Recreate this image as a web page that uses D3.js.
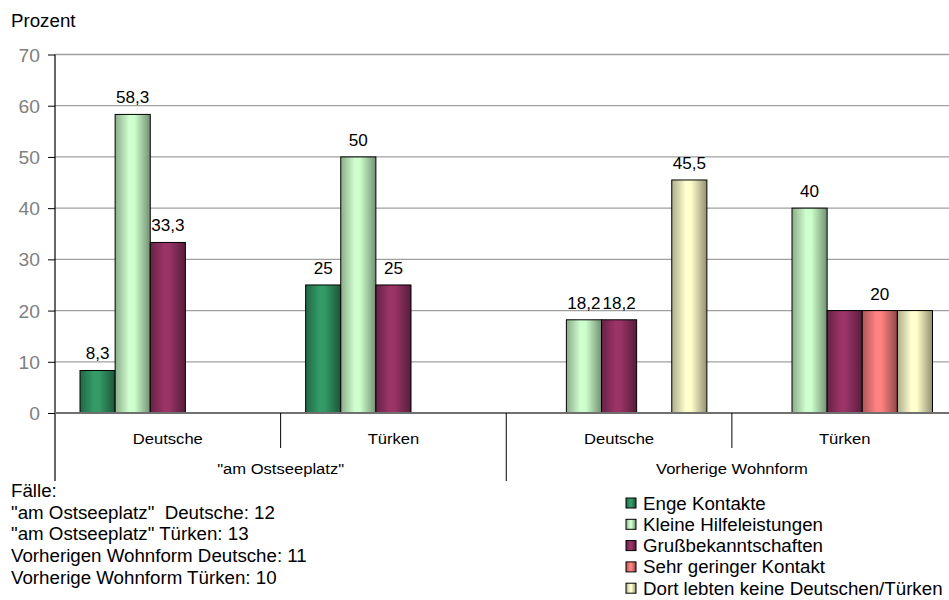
<!DOCTYPE html>
<html>
<head>
<meta charset="utf-8">
<script src="https://cdn.jsdelivr.net/npm/d3@7"></script>
<style>
  html, body { margin: 0; padding: 0; background: #fff; }
  svg { display: block; font-family: "Liberation Sans", Arial, sans-serif; }
</style>
</head>
<body>
<svg id="chart" width="949" height="600"></svg>
<script>
// Kontakte nach Herkunft und Wohnort (Prozent)
const groups = ['"am Ostseeplatz"', "Vorherige Wohnform"];
const subgroups = ["Deutsche", "Türken", "Deutsche", "Türken"];
const series = [
  "Enge Kontakte",
  "Kleine Hilfeleistungen",
  "Grußbekanntschaften",
  "Sehr geringer Kontakt",
  "Dort lebten keine Deutschen/Türken"
];
// one row per subgroup, one value per series (null = kein Balken)
const values = [
  [8.3, 58.3, 33.3, null, null],
  [25, 50, 25, null, null],
  [null, 18.2, 18.2, null, 45.5],
  [null, 40, 20, 20, 20]
];
// which bars carry a value label
const showLabel = [
  [true, true, true, false, false],
  [true, true, true, false, false],
  [false, true, true, false, true],
  [false, true, false, true, false]
];
const yTicks = [0, 10, 20, 30, 40, 50, 60, 70];
const caseNotes = [
  "Fälle:",
  "\"am Ostseeplatz\"  Deutsche: 12",
  "\"am Ostseeplatz\" Türken: 13",
  "Vorherigen Wohnform Deutsche: 11",
  "Vorherige Wohnform Türken: 10"
];
const colors = ["#339966", "#ccffcc", "#993366", "#ff8080", "#ffffcc"];

const svg = d3.select("#chart");
const plot = { left: 55, right: 957.5, top: 54.5, bottom: 413 };
const SX = 1.07; // slightly widened lettering

// place a text element at (x, y) with the horizontal stretch applied
function place(sel, fx, fy) {
  return sel.attr("transform", (d, i) => `translate(${fx(d, i)},${fy(d, i)}) scale(${SX},1)`);
}

const y = d3.scaleLinear().domain([0, 70]).range([plot.bottom, plot.top]);
const x0 = d3.scaleBand().domain(d3.range(subgroups.length))
  .range([plot.left, plot.right]).paddingInner(0).paddingOuter(0);
const x1 = d3.scaleBand().domain(d3.range(series.length))
  .range([25, x0.bandwidth() - 25]);

// cylinder-like horizontal shading for each series
const defs = svg.append("defs");
colors.forEach((c, i) => {
  const base = d3.color(c);
  const g = defs.append("linearGradient").attr("id", "grad" + i)
    .attr("x1", "0%").attr("x2", "100%").attr("y1", "0%").attr("y2", "0%");
  g.append("stop").attr("offset", "0%").attr("stop-color", base.darker(1.1));
  g.append("stop").attr("offset", "40%").attr("stop-color", base.brighter(0.05));
  g.append("stop").attr("offset", "55%").attr("stop-color", base);
  g.append("stop").attr("offset", "100%").attr("stop-color", base.darker(1.6));
});

// gridlines
svg.append("g").selectAll("line").data(yTicks.filter(d => d > 0)).join("line")
  .attr("x1", plot.left).attr("x2", 949)
  .attr("y1", d => y(d)).attr("y2", d => y(d))
  .attr("stroke", "#a0a0a0").attr("stroke-width", 1.3);

// y axis
const yAxis = svg.append("g").attr("transform", `translate(${plot.left},0)`)
  .call(d3.axisLeft(y).tickValues(yTicks).tickSize(7).tickPadding(8));
yAxis.select(".domain").remove();
yAxis.selectAll(".tick line").attr("stroke", "#000");
yAxis.selectAll(".tick text").attr("fill", "#808080")
  .attr("font-size", 18).attr("font-family", "Liberation Sans, Arial, sans-serif")
  .attr("x", null).attr("dy", null)
  .attr("transform", `translate(-15,6.5) scale(${SX},1)`);
svg.append("line").attr("x1", plot.left).attr("x2", plot.left)
  .attr("y1", plot.top).attr("y2", 481).attr("stroke", "#000").attr("stroke-width", 1.2);

place(svg.append("text").datum(0), () => 11, () => 27)
  .attr("font-size", 17.5).text("Prozent");

// bars
const cells = [];
values.forEach((row, gi) => row.forEach((v, si) => {
  if (v !== null) cells.push({ gi, si, v, label: showLabel[gi][si] });
}));

svg.append("g").selectAll("rect").data(cells).join("rect")
  .attr("x", d => x0(d.gi) + x1(d.si))
  .attr("width", x1.bandwidth())
  .attr("y", d => y(d.v))
  .attr("height", d => y(0) - y(d.v))
  .attr("fill", d => `url(#grad${d.si})`)
  .attr("stroke", "#000").attr("stroke-width", 1);

// value labels
const fmt = v => String(v).replace(".", ",");
place(svg.append("g").selectAll("text").data(cells.filter(d => d.label)).join("text"),
    d => x0(d.gi) + x1(d.si) + x1.bandwidth() / 2,
    d => y(d.v) - 11)
  .attr("text-anchor", "middle").attr("font-size", 16)
  .text(d => fmt(d.v));

// baseline
svg.append("line").attr("x1", plot.left).attr("x2", 949)
  .attr("y1", y(0)).attr("y2", y(0)).attr("stroke", "#707070").attr("stroke-width", 2);

// category axis: subgroup and group labels with separators
const xa = svg.append("g");
place(xa.append("g").selectAll("text").data(subgroups).join("text"),
    (d, i) => x0(i) + x0.bandwidth() / 2, () => 444)
  .attr("text-anchor", "middle").attr("font-size", 15.5).text(d => d);
[1, 3].forEach(i => {
  xa.append("line").attr("x1", x0(i)).attr("x2", x0(i))
    .attr("y1", y(0)).attr("y2", 448).attr("stroke", "#000");
});
xa.append("line").attr("x1", x0(2)).attr("x2", x0(2))
  .attr("y1", y(0)).attr("y2", 481).attr("stroke", "#000");
place(xa.append("g").selectAll("text").data(groups).join("text"),
    (d, i) => x0(i * 2 + 1), () => 474)
  .attr("text-anchor", "middle").attr("font-size", 15.5).text(d => d);

// case counts
place(svg.append("g").selectAll("text").data(caseNotes).join("text"),
    () => 11, (d, i) => 497 + i * 21.7)
  .attr("font-size", 17.5).attr("xml:space", "preserve")
  .style("white-space", "pre").text(d => d);

// legend
const lg = svg.append("g").attr("transform", "translate(626,498)");
const li = lg.selectAll("g").data(series).join("g")
  .attr("transform", (d, i) => `translate(0,${i * 21.3})`);
li.append("rect").attr("width", 10).attr("height", 10)
  .attr("fill", (d, i) => `url(#grad${i})`).attr("stroke", "#000");
place(li.append("text"), () => 17, () => 11.5).attr("font-size", 17.5).text(d => d);
</script>
</body>
</html>
